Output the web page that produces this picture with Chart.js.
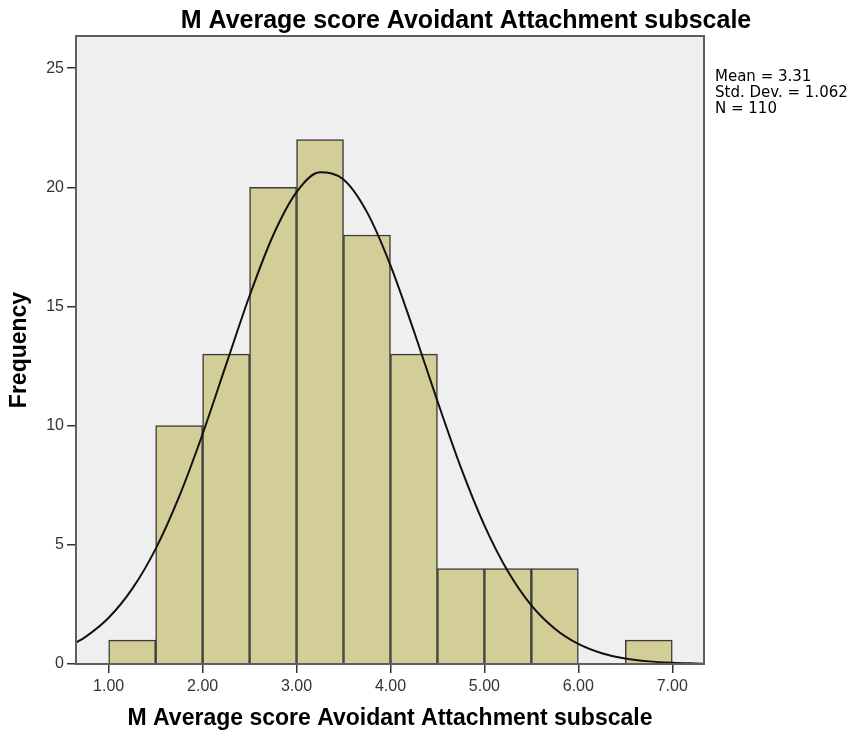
<!DOCTYPE html>
<html>
<head>
<meta charset="utf-8">
<script src="https://cdn.jsdelivr.net/npm/chart.js@4/dist/chart.umd.min.js"></script>
<style>
  html, body { margin: 0; padding: 0; background: #fff; }
  #wrap { width: 862px; height: 738px; }
</style>
</head>
<body>
<div id="wrap"><canvas id="hist" width="862" height="738"></canvas></div>
<script>
// histogram bins (width 0.5), centres and counts
const binCenters = [1.25, 1.75, 2.25, 2.75, 3.25, 3.75, 4.25, 4.75, 5.25, 5.75, 6.25, 6.75];
const frequencies = [1, 10, 13, 20, 22, 18, 13, 4, 4, 4, 0, 1];

// normal curve
const curveX = [0.65, 0.75, 1.0, 1.25, 1.5, 1.75, 2.0, 2.25, 2.5, 2.75, 3.0, 3.25, 3.5, 3.75, 4.0, 4.25, 4.5, 4.75, 5.0, 5.25, 5.5, 5.75, 6.0, 6.25, 6.5, 6.75, 7.0, 7.25, 7.35];
const curveY = [0.9, 1.13, 1.94, 3.15, 4.83, 7.02, 9.65, 12.56, 15.45, 17.98, 19.8, 20.63, 20.33, 18.96, 16.73, 13.96, 11.03, 8.24, 5.82, 3.89, 2.46, 1.48, 0.84, 0.45, 0.23, 0.11, 0.05, 0.02, 0.01];

const xTicks = [1, 2, 3, 4, 5, 6, 7];
const yTicks = [0, 5, 10, 15, 20, 25];
const statLines = ['Mean = 3.31', 'Std. Dev. = 1.062', 'N = 110'];
const chartTitle = 'M Average score Avoidant Attachment subscale';

const FONT = "'Liberation Sans', Arial, sans-serif";
const X_MIN = 0.652, X_MAX = 7.338;

// grey plot background, frame, title and stats text
const framePlugin = {
    id: 'frame',
    beforeDraw(chart) {
        const a = chart.chartArea;
        const ctx = chart.ctx;
        ctx.save();
        ctx.fillStyle = '#efefef';
        ctx.fillRect(a.left, a.top, a.right - a.left, a.bottom - a.top);
        ctx.restore();
    },
    afterDraw(chart) {
        const a = chart.chartArea;
        const ctx = chart.ctx;
        ctx.save();
        ctx.strokeStyle = '#5e5e5e';
        ctx.lineWidth = 2;
        ctx.strokeRect(a.left, a.top, a.right - a.left, a.bottom - a.top);

        ctx.fillStyle = '#000';
        ctx.font = 'bold 25px ' + FONT;
        ctx.textAlign = 'center';
        ctx.textBaseline = 'alphabetic';
        ctx.fillText(chartTitle, 466, 28);

        ctx.font = "15px 'DejaVu Sans', sans-serif";
        ctx.textAlign = 'left';
        statLines.forEach((line, i) => {
            ctx.fillText(line, 715, 81 + i * 16);
        });
        ctx.restore();
    }
};

new Chart(document.getElementById('hist'), {
    type: 'bar',
    data: {
        datasets: [{
            type: 'line',
            data: curveX.map((x, i) => ({ x: x, y: curveY[i] })),
            xAxisID: 'xLine',
            borderColor: '#111',
            borderWidth: 2,
            pointRadius: 0,
            fill: false,
            cubicInterpolationMode: 'monotone',
            order: 1
        }, {
            type: 'bar',
            data: binCenters.map((x, i) => ({ x: x, y: frequencies[i] })),
            backgroundColor: '#d3ce97',
            borderColor: '#3a3a3a',
            borderWidth: 1.5,
            grouped: false,
            barPercentage: 1,
            categoryPercentage: 1,
            order: 2
        }]
    },
    options: {
        responsive: false,
        animation: false,
        layout: { padding: { top: 36, right: 158, left: 0, bottom: 0 } },
        plugins: {
            legend: { display: false },
            tooltip: { enabled: false }
        },
        scales: {
            x: {
                type: 'linear',
                min: X_MIN,
                max: X_MAX,
                offset: false,
                afterBuildTicks: scale => { scale.ticks = xTicks.map(v => ({ value: v })); },
                afterFit: scale => { scale.height = 74; },
                border: { display: false },
                grid: { offset: false, drawOnChartArea: false, drawTicks: true, tickLength: 9, color: '#333', lineWidth: 1.5 },
                ticks: {
                    color: '#333',
                    font: { family: FONT, size: 16 },
                    padding: 4,
                    callback: v => v.toFixed(2)
                },
                title: {
                    display: true,
                    text: chartTitle,
                    color: '#000',
                    font: { family: FONT, size: 23, weight: 'bold' },
                    padding: { top: 0, bottom: 6 }
                }
            },
            xLine: {
                type: 'linear',
                display: false,
                offset: false,
                min: X_MIN,
                max: X_MAX
            },
            y: {
                min: 0,
                max: 26.35,
                afterBuildTicks: scale => { scale.ticks = yTicks.map(v => ({ value: v })); },
                afterFit: scale => { scale.width = 76; },
                border: { display: false },
                grid: { drawOnChartArea: false, drawTicks: true, tickLength: 9, color: '#333', lineWidth: 1.5 },
                ticks: {
                    color: '#333',
                    font: { family: FONT, size: 16 },
                    padding: 3
                },
                title: {
                    display: true,
                    text: 'Frequency',
                    color: '#000',
                    font: { family: FONT, size: 23, weight: 'bold' },
                    padding: { top: 6, bottom: 0 }
                }
            }
        }
    },
    plugins: [framePlugin]
});
</script>
</body>
</html>
